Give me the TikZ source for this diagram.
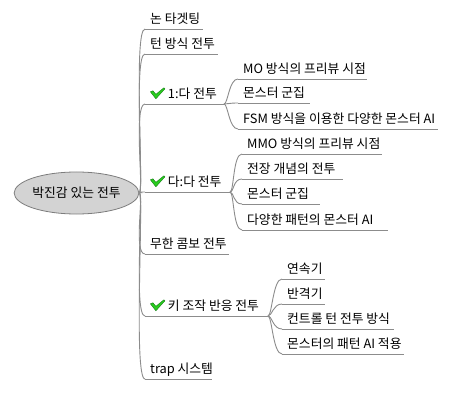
\documentclass[tikz,border=0pt]{standalone}
\usepackage{fontspec}
\newfontfamily\kr{Noto Sans CJK KR}
\usetikzlibrary{shapes.geometric}
\definecolor{edgec}{RGB}{140,140,140}
\definecolor{rootf}{RGB}{211,211,211}
\definecolor{rootd}{RGB}{125,125,125}
\definecolor{chkf}{RGB}{40,205,30}
\definecolor{chkd}{RGB}{20,125,20}
\newcommand{\chk}{\tikz[baseline=0pt,x=1pt,y=1pt]{\fill[chkf,draw=chkd,line width=0.4pt,line join=round] (0,6.5) -- (2.5,7.5) -- (5.5,4) -- (13.5,10.5) -- (14.5,9.5) -- (5.5,-0.5) -- cycle;}}
\tikzset{
  every node/.style={font=\kr\fontsize{12.8}{14}\selectfont},
  topic/.style={anchor=south west, inner xsep=5pt, inner ysep=1.5pt, text height=10pt, text depth=4pt},
  uline/.style={draw=edgec, line width=0.9pt},
  edgeline/.style={draw=edgec, line width=0.9pt},
  rootnode/.style={ellipse, fill=rootf, draw=rootd, line width=0.8pt, minimum width=103pt, minimum height=42pt, inner sep=0pt}
}
\begin{document}
\begin{tikzpicture}[x=1pt,y=-1pt]
\useasboundingbox[fill=white] (0,0) rectangle (452,406);
% root
\node[rootnode] (root) at (76.5,193) {박진감 있는 전투};
% level 1
\node[topic] (a1) at (145,29) {논 타겟팅};
\node[topic] (a2) at (145,54) {턴 방식 전투};
\node[topic] (a3) at (145,104) {\chk\ 1:다 전투};
\node[topic] (a4) at (145,192) {\chk\ 다:다 전투};
\node[topic] (a5) at (145,254) {무한 콤보 전투};
\node[topic] (a6) at (145,316) {\chk\ 키 조작 반응 전투};
\node[topic] (a7) at (145,379) {trap 시스템};
\draw[uline] (a1.south west) -- +(58,0) coordinate (a1e);
\draw[uline] (a2.south west) -- +(73,0) coordinate (a2e);
\draw[uline] (a3.south west) -- +(79,0) coordinate (a3e);
\draw[uline] (a4.south west) -- +(85,0) coordinate (a4e);
\draw[uline] (a5.south west) -- +(84,0) coordinate (a5e);
\draw[uline] (a6.south west) -- +(123,0) coordinate (a6e);
\draw[uline] (a7.south west) -- +(67,0) coordinate (a7e);
\foreach \n in {a1,a2,a3,a4,a5,a6,a7}
  \draw[edgeline] (root.east) .. controls +(5,0) and +(-12,0) .. (\n.south west);
% children of 1:da
\node[topic] (c1) at (238,79) {MO 방식의 프리뷰 시점};
\node[topic] (c2) at (238,103) {몬스터 군집};
\node[topic] (c3) at (238,129) {FSM 방식을 이용한 다양한 몬스터 AI};
\draw[uline] (c1.south west) -- +(129,0);
\draw[uline] (c2.south west) -- +(72,0);
\draw[uline] (c3.south west) -- +(200,0);
\foreach \n in {c1,c2,c3}
  \draw[edgeline] (a3e) .. controls +(4,0) and +(-9,0) .. (\n.south west);
% children of da:da
\node[topic] (d1) at (242,154) {MMO 방식의 프리뷰 시점};
\node[topic] (d2) at (242,179) {전장 개념의 전투};
\node[topic] (d3) at (242,204) {몬스터 군집};
\node[topic] (d4) at (242,230) {다양한 패턴의 몬스터 AI};
\draw[uline] (d1.south west) -- +(140,0);
\draw[uline] (d2.south west) -- +(101,0);
\draw[uline] (d3.south west) -- +(78,0);
\draw[uline] (d4.south west) -- +(146,0);
\foreach \n in {d1,d2,d3,d4}
  \draw[edgeline] (a4e) .. controls +(4,0) and +(-9,0) .. (\n.south west);
% children of key control
\node[topic] (e1) at (282,279) {연속기};
\node[topic] (e2) at (282,304) {반격기};
\node[topic] (e3) at (282,329) {컨트롤 턴 전투 방식};
\node[topic] (e4) at (282,354) {몬스터의 패턴 AI 적용};
\draw[uline] (e1.south west) -- +(43,0);
\draw[uline] (e2.south west) -- +(43,0);
\draw[uline] (e3.south west) -- +(112,0);
\draw[uline] (e4.south west) -- +(122,0);
\foreach \n in {e1,e2,e3,e4}
  \draw[edgeline] (a6e) .. controls +(4,0) and +(-9,0) .. (\n.south west);
\end{tikzpicture}
\end{document}
